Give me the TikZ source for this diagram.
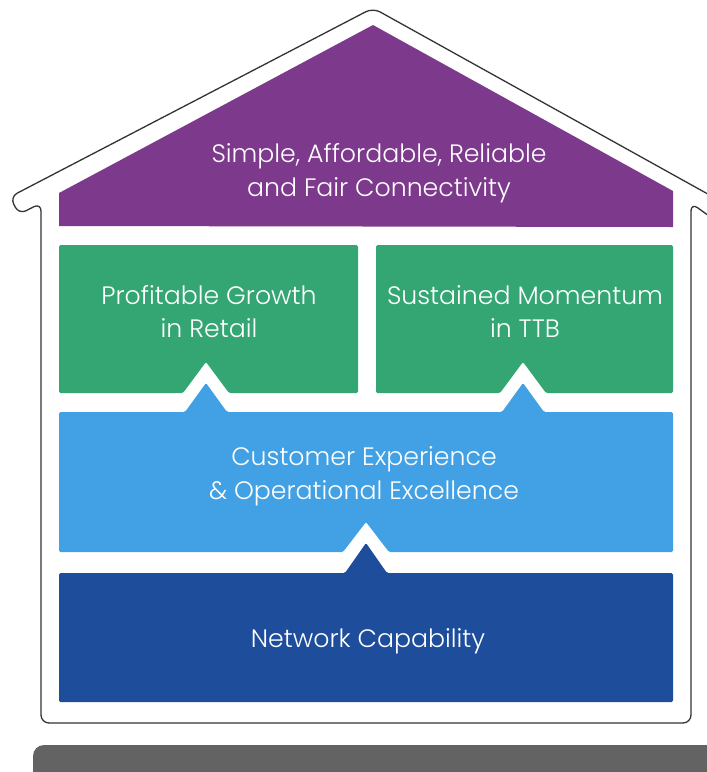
\documentclass[tikz,border=0pt]{standalone}
\usepackage{fontspec}
\setmainfont{Poppins Light}
\begin{document}
\begin{tikzpicture}[x=1pt,y=-1pt,
  outline/.style={draw=black!80,line width=1.3pt,line join=round},
  band/.style={rounded corners=1.5pt},
  label/.style={text=white,anchor=base,font=\fontsize{25.2}{29}\selectfont,inner sep=0pt}]
\definecolor{roofpurple}{RGB}{125,58,140}
\definecolor{pillargreen}{RGB}{52,166,116}
\definecolor{cxblue}{RGB}{66,161,228}
\definecolor{netnavy}{RGB}{30,77,155}
\definecolor{groundgray}{RGB}{98,99,98}
\useasboundingbox (0,0) rectangle (707,772);
\begin{scope}
\clip (0,0) rectangle (707,772);
% ground strip
\fill[groundgray,rounded corners=11pt] (33,745) rectangle (740,800);
% house outline with eaves
\draw[outline,rounded corners=8pt]
  (41,203) -- (19,214.4) -- (10,196.9) -- (373,8) -- (733,208)
  -- (723,226) -- (691,203) -- (691,723) -- (41,723) -- cycle;
\end{scope}
% roof
\fill[roofpurple] (59,226) -- (59,193) -- (373,25) -- (673,191) -- (673,227) -- cycle;
% two pillars with notches
\fill[pillargreen,band] (59,245) -- (358,245) -- (358,393) -- (229,393)
  -- (206,362) -- (183,393) -- (59,393) -- cycle;
\fill[pillargreen,band] (376,245) -- (673,245) -- (673,393) -- (546,393)
  -- (523,362) -- (500,393) -- (376,393) -- cycle;
% customer experience band
\fill[cxblue,band] (59,412) -- (185,412) -- (206,383) -- (227,412)
  -- (502,412) -- (523,383) -- (544,412) -- (673,412) -- (673,552)
  -- (389,552) -- (366,522) -- (343,552) -- (59,552) -- cycle;
% foundation
\fill[netnavy,band] (59,573) -- (345,573) -- (366,543) -- (387,573)
  -- (673,573) -- (673,702) -- (59,702) -- cycle;
% labels
\node[label] (roofA) at (379,162) {Simple, Affordable, Reliable};
\node[label] (roofB) at (379,196) {and Fair Connectivity};
\node[label] (leftA) at (209,304) {Profitable Growth};
\node[label] (leftB) at (209,337) {in Retail};
\node[label] (rightA) at (525,304) {Sustained Momentum};
\node[label] (rightB) at (525,337) {in TTB};
\node[label] (cxA) at (364,465) {Customer Experience};
\node[label] (cxB) at (364,499) {\& Operational Excellence};
\node[label] (netA) at (368,647) {Network Capability};
\end{tikzpicture}
\end{document}
